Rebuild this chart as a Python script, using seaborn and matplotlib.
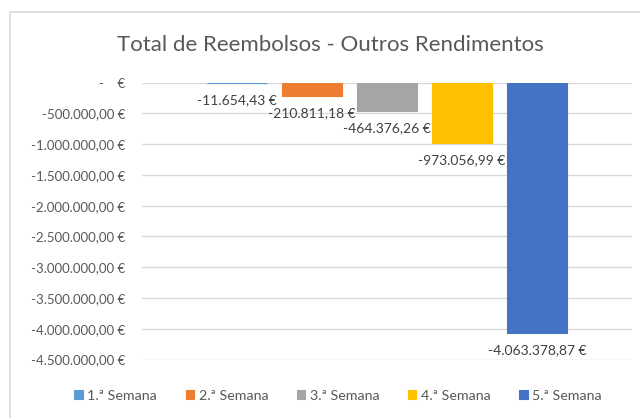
import numpy as np
import pandas as pd
import seaborn as sb
import matplotlib
matplotlib.use('Agg')
import matplotlib.pyplot as plt
from matplotlib.patches import Rectangle
from matplotlib.ticker import FixedLocator, FuncFormatter

# data
semanas = ["1.ª Semana", "2.ª Semana", "3.ª Semana", "4.ª Semana", "5.ª Semana"]
valores = [-11654.43, -210811.18, -464376.26, -973056.99, -4063378.87]
cores = ["#5B9BD5", "#ED7D31", "#A5A5A5", "#FFC000", "#4472C4"]
titulo = "Total de Reembolsos - Outros Rendimentos"
y_ticks = [0, -500000, -1000000, -1500000, -2000000, -2500000,
           -3000000, -3500000, -4000000, -4500000]

sb.set_style("white")
plt.rcParams['font.family'] = ['Lato', 'DejaVu Sans']

grey_txt = "#595959"


def eur(v):
    if v == 0:
        return "-    €"
    s = f"{abs(v):,.2f}".replace(",", "X").replace(".", ",").replace("X", ".")
    return ("-" if v < 0 else "") + s + " €"


df = pd.DataFrame({"cat": [""] * len(semanas), "semana": semanas, "valor": valores})

fig = plt.figure(figsize=(6.4, 4.18), dpi=100)
ax = fig.add_axes([142 / 640, 1 - 359.5 / 418, 490 / 640, (359.5 - 82.7) / 418])

sb.barplot(data=df, x="cat", y="valor", hue="semana", palette=cores,
           width=0.765, gap=0.2, saturation=1, errorbar=None, legend=False, ax=ax)

# thin outline so the tiny first bar still shows
for cont, c in zip(ax.containers, cores):
    for p in cont.patches:
        p.set_edgecolor(c)
        p.set_linewidth(0.8)

ax.set_ylim(-4500000, 0)
ax.set_xlim(-0.5, 0.5)
ax.yaxis.set_major_locator(FixedLocator(y_ticks))
ax.yaxis.set_major_formatter(FuncFormatter(lambda v, p: eur(v)))
ax.grid(axis="y", color="#D9D9D9", linewidth=1)
ax.set_axisbelow(True)
for s in ax.spines.values():
    s.set_visible(False)
ax.tick_params(axis="y", length=0, pad=12, labelsize=9.5, labelcolor=grey_txt)
ax.tick_params(axis="x", length=0, labelbottom=False)
ax.set_xlabel("")
ax.set_ylabel("")

# data labels
for cont, v in zip(ax.containers, valores):
    ax.bar_label(cont, labels=[eur(v)], padding=8, fontsize=10, color="#404040")

# legend
handles = [c.patches[0] for c in ax.containers]
fig.legend(handles, semanas, loc="center", bbox_to_anchor=(338 / 640, 1 - 396 / 418),
           ncol=5, frameon=False, handlelength=0.6, handleheight=0.6,
           handletextpad=0.3, columnspacing=2.0, fontsize=10.3, labelcolor=grey_txt)

fig.text(330 / 640, 1 - 45 / 418, titulo, ha="center", va="center",
         fontsize=16, color=grey_txt)

# chart border
fig.add_artist(Rectangle((10 / 640, -0.1), 1.2, 1 - 12 / 418 + 0.1, transform=fig.transFigure,
                         fill=False, edgecolor="#D9D9D9", linewidth=1.2, clip_on=False))

fig.savefig("out.png", dpi=100)
